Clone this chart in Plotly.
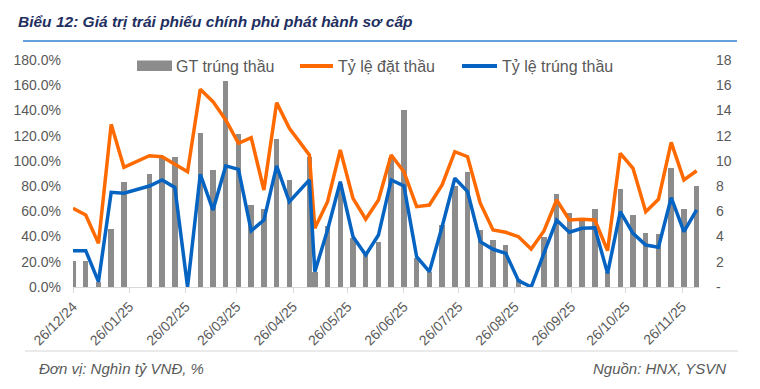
import plotly.graph_objects as go

# ---------------- data ----------------
dates = [
    "2024-12-26", "2025-01-02", "2025-01-09", "2025-01-16", "2025-01-23",
    "2025-02-06", "2025-02-13", "2025-02-20", "2025-02-27",
    "2025-03-06", "2025-03-13", "2025-03-20", "2025-03-27",
    "2025-04-03", "2025-04-10", "2025-04-17", "2025-04-24",
    "2025-05-05", "2025-05-08", "2025-05-15", "2025-05-22", "2025-05-29",
    "2025-06-05", "2025-06-12", "2025-06-19", "2025-06-26",
    "2025-07-03", "2025-07-10", "2025-07-17", "2025-07-24", "2025-07-31",
    "2025-08-07", "2025-08-14", "2025-08-21", "2025-08-28",
    "2025-09-04", "2025-09-11", "2025-09-18", "2025-09-25",
    "2025-10-02", "2025-10-09", "2025-10-16", "2025-10-23", "2025-10-30",
    "2025-11-06", "2025-11-13", "2025-11-20", "2025-11-27", "2025-12-04",
]

gt_trung_thau = [  # nghìn tỷ VNĐ
    2.1, 2.1, 0.4, 4.6, 8.3,
    9.0, 10.2, 10.3, 0.0,
    12.2, 9.3, 16.3, 12.1,
    6.5, 6.2, 11.7, 8.5,
    10.3, 1.2, 4.8, 8.2, 3.9,
    2.6, 3.6, 10.2, 14.0,
    2.3, 1.2, 4.9, 8.0, 9.1,
    4.5, 3.7, 3.3, 0.6,
    0.0, 4.0, 7.4, 5.9,
    5.2, 6.2, 1.2, 7.8, 5.7,
    4.3, 4.2, 9.4, 6.2, 8.0,
]

ty_le_dat_thau = [  # %
    62.4, 57.1, 34.6, 129.0, 94.9,
    104.1, 103.3, 97.5, 91.4,
    156.8, 147.0, 132.4, 114.0,
    118.4, 76.9, 146.2, 125.8,
    104.7, 46.5, 67.6, 108.6, 70.3,
    53.7, 69.0, 104.7, 91.4,
    63.7, 65.0, 80.9, 107.3, 103.3,
    66.4, 45.2, 43.4, 39.9,
    30.1, 44.4, 69.0, 53.1,
    53.7, 53.1, 28.8, 106.0, 94.1,
    59.7, 69.5, 114.7, 84.9, 92.2,
]

ty_le_trung_thau = [  # %
    28.8, 28.8, 4.2, 75.1, 74.3,
    80.1, 84.9, 79.0, 0.0,
    89.4, 61.0, 96.0, 93.3,
    44.6, 53.1, 96.0, 67.6,
    84.9, 12.1, 45.2, 83.5, 39.9,
    25.4, 41.2, 84.9, 80.1,
    24.0, 12.1, 47.8, 86.2, 75.7,
    35.9, 29.9, 26.7, 5.0,
    0.0, 26.7, 53.1, 43.4,
    46.5, 47.0, 10.8, 59.7, 42.6,
    33.3, 31.5, 70.8, 43.9, 61.1,
]

x_tick_vals = [
    "2024-12-26", "2025-01-26", "2025-02-26", "2025-03-26", "2025-04-26",
    "2025-05-26", "2025-06-26", "2025-07-26", "2025-08-26", "2025-09-26",
    "2025-10-26", "2025-11-26",
]
x_tick_text = [
    "26/12/24", "26/01/25", "26/02/25", "26/03/25", "26/04/25", "26/05/25",
    "26/06/25", "26/07/25", "26/08/25", "26/09/25", "26/10/25", "26/11/25",
]
left_tick_vals = [0, 20, 40, 60, 80, 100, 120, 140, 160, 180]
left_tick_text = ["0.0%", "20.0%", "40.0%", "60.0%", "80.0%", "100.0%",
                  "120.0%", "140.0%", "160.0%", "180.0%"]
right_tick_vals = [0, 2, 4, 6, 8, 10, 12, 14, 16, 18]
right_tick_text = ["-", "2", "4", "6", "8", "10", "12", "14", "16", "18"]

title_text = "Biểu 12: Giá trị trái phiếu chính phủ phát hành sơ cấp"
legend_names = ["GT trúng thầu", "Tỷ lệ đặt thầu", "Tỷ lệ trúng thầu"]
unit_text = "Đơn vị: Nghìn tỷ VNĐ, %"
source_text = "Nguồn: HNX, YSVN"

# ---------------- styles ----------------
FONT = "Liberation Sans, Arial, sans-serif"
GREY_TXT = "#595959"
BAR_C = "#8C8C8C"
ORANGE = "#FF6A00"
BLUE = "#0563C1"

OFF = 8  # page body margin in the browser
W, H = 760 - OFF, 389 - OFF
# plot area in window pixels
L, R, T, B = 73, 699, 60, 287


def px(x):
    return (x - L) / (R - L)


def py(y):
    return (B - y) / (B - T)


fig = go.Figure()

fig.add_trace(go.Bar(
    x=dates, y=gt_trung_thau, name=legend_names[0],
    marker=dict(color=BAR_C, line=dict(width=0)),
    width=3 * 86400000, yaxis="y", showlegend=False,
))
fig.add_trace(go.Scatter(
    x=dates, y=ty_le_dat_thau, name=legend_names[1], mode="lines",
    line=dict(color=ORANGE, width=3.5), yaxis="y2", showlegend=False,
))
fig.add_trace(go.Scatter(
    x=dates, y=ty_le_trung_thau, name=legend_names[2], mode="lines",
    line=dict(color=BLUE, width=3.5), yaxis="y2", showlegend=False,
))

shapes = [
    dict(type="line", xref="paper", yref="paper", x0=px(23), x1=px(737),
         y0=py(41), y1=py(41), line=dict(color="#2F80D0", width=1.5)),
    dict(type="line", xref="paper", yref="paper", x0=px(25), x1=px(738),
         y0=py(351), y1=py(351), line=dict(color="#E3E3E3", width=1.5)),
    dict(type="rect", xref="paper", yref="paper", x0=px(137), x1=px(172),
         y0=py(71), y1=py(60.5), fillcolor=BAR_C, line=dict(width=0)),
    dict(type="line", xref="paper", yref="paper", x0=px(300), x1=px(333),
         y0=py(66), y1=py(66), line=dict(color=ORANGE, width=4)),
    dict(type="line", xref="paper", yref="paper", x0=px(462), x1=px(497),
         y0=py(66), y1=py(66), line=dict(color=BLUE, width=4)),
]

annotations = [
    dict(text="<b><i>" + title_text + "</i></b>", xref="paper", yref="paper",
         x=px(16), y=py(21), xanchor="left", yanchor="middle", showarrow=False,
         font=dict(family=FONT, size=15.5, color="#1F2F5F")),
    dict(text=legend_names[0], xref="paper", yref="paper", x=px(174), y=py(66.5),
         xanchor="left", yanchor="middle", showarrow=False,
         font=dict(family=FONT, size=16, color=GREY_TXT)),
    dict(text=legend_names[1], xref="paper", yref="paper", x=px(336), y=py(66.5),
         xanchor="left", yanchor="middle", showarrow=False,
         font=dict(family=FONT, size=16, color=GREY_TXT)),
    dict(text=legend_names[2], xref="paper", yref="paper", x=px(500), y=py(66.5),
         xanchor="left", yanchor="middle", showarrow=False,
         font=dict(family=FONT, size=16, color=GREY_TXT)),
    dict(text="<i>" + unit_text + "</i>", xref="paper", yref="paper",
         x=px(37), y=py(368), xanchor="left", yanchor="middle", showarrow=False,
         font=dict(family=FONT, size=15, color=GREY_TXT)),
    dict(text="<i>" + source_text + "</i>", xref="paper", yref="paper",
         x=px(728), y=py(368), xanchor="right", yanchor="middle", showarrow=False,
         font=dict(family=FONT, size=15, color=GREY_TXT)),
]

fig.update_layout(
    width=W, height=H, autosize=False,
    margin=dict(l=L - OFF, r=760 - R, t=T - OFF, b=389 - B, pad=0,
                autoexpand=False),
    paper_bgcolor="white", plot_bgcolor="white",
    font=dict(family=FONT, size=14, color=GREY_TXT),
    bargap=0, showlegend=False,
    shapes=shapes, annotations=annotations,
    xaxis=dict(
        type="date", range=["2024-12-26", "2025-12-05 07:00"],
        tickmode="array", tickvals=x_tick_vals, ticktext=x_tick_text,
        tickangle=-45, ticks="outside", ticklen=5, tickcolor="#D9D9D9",
        showline=True, linecolor="#D9D9D9", linewidth=1,
        showgrid=False, zeroline=False, automargin=False,
        tickfont=dict(family=FONT, size=14, color=GREY_TXT),
    ),
    yaxis=dict(
        side="right", range=[0, 18], tickmode="array",
        tickvals=right_tick_vals, ticktext=right_tick_text,
        showgrid=False, zeroline=False, showline=False, ticks="",
        ticklabelstandoff=16, automargin=False,
        tickfont=dict(family=FONT, size=14, color=GREY_TXT),
    ),
    yaxis2=dict(
        overlaying="y", side="left", range=[0, 180], tickmode="array",
        tickvals=left_tick_vals, ticktext=left_tick_text,
        showgrid=False, zeroline=False, showline=False, ticks="",
        ticklabelstandoff=11, automargin=False,
        tickfont=dict(family=FONT, size=14, color=GREY_TXT),
    ),
)

fig.write_html("out.html")
